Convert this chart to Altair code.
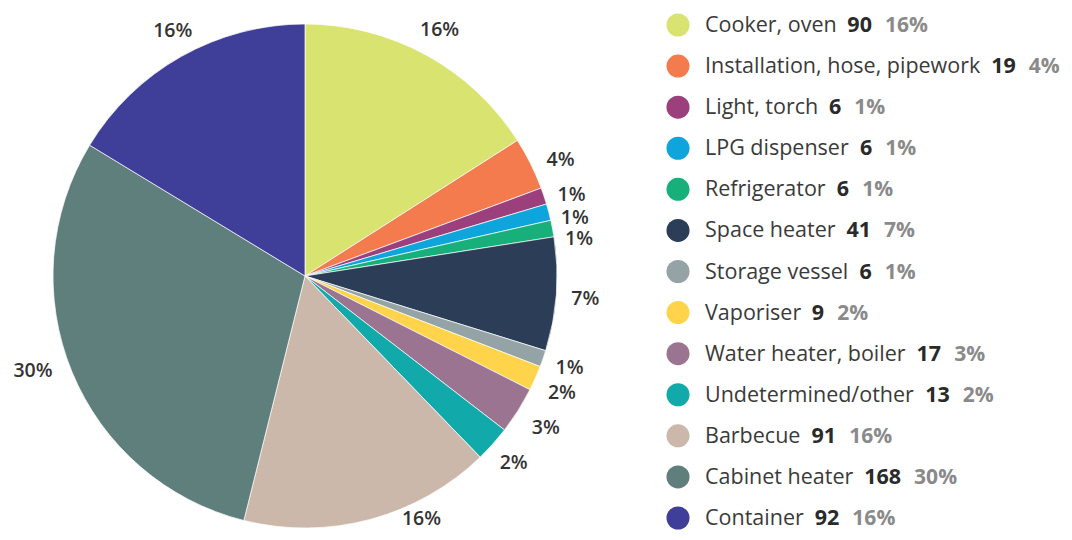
import altair as alt
import pandas as pd

categories = [
    "Cooker, oven", "Installation, hose, pipework", "Light, torch", "LPG dispenser",
    "Refrigerator", "Space heater", "Storage vessel", "Vaporiser",
    "Water heater, boiler", "Undetermined/other", "Barbecue", "Cabinet heater", "Container",
]
counts = [90, 19, 6, 6, 6, 41, 6, 9, 17, 13, 91, 168, 92]
percents = ["16%", "4%", "1%", "1%", "1%", "7%", "1%", "2%", "3%", "2%", "16%", "30%", "16%"]
colors = [
    "#d9e36f", "#f47b4e", "#9b3f7d", "#0ea5dc", "#17b07b", "#2b3d57", "#94a3a6",
    "#ffd44a", "#9a7490", "#12a9ab", "#cbb8aa", "#5f7f7c", "#3f3f99",
]

# layout / style
CX, CY = 297, 268
R = 252
LABEL_R = 280
FONT = "Open Sans"
LEG_FS = 21.5
PCT_FS = 21

# approximate Open Sans advance widths (em) to place the inline legend pieces
W = {" ": 0.26, "a": 0.556, "b": 0.613, "c": 0.476, "d": 0.613, "e": 0.561, "f": 0.339,
     "g": 0.548, "h": 0.614, "i": 0.253, "j": 0.253, "k": 0.52, "l": 0.253, "m": 0.93,
     "n": 0.614, "o": 0.604, "p": 0.613, "q": 0.613, "r": 0.408, "s": 0.477, "t": 0.353,
     "u": 0.614, "v": 0.501, "w": 0.778, "x": 0.52, "y": 0.501, "z": 0.465, ",": 0.242,
     "/": 0.367, "C": 0.631, "I": 0.303, "L": 0.528, "P": 0.608, "G": 0.726, "R": 0.623,
     "S": 0.55, "V": 0.579, "W": 0.942, "U": 0.742, "B": 0.656}
BOLD_DIGIT = 0.572


def text_w(s):
    return sum(W.get(ch, 0.57) for ch in s) * LEG_FS


DOT_X = 670
NAME_X = 697
GAP1, GAP2 = 11, 13

df = pd.DataFrame({
    "category": categories,
    "count": counts,
    "pct": percents,
    "order": list(range(len(categories))),
})
df["count_str"] = df["count"].astype(str)
df["num_x"] = [NAME_X + text_w(c) + GAP1 for c in categories]
df["pct_x"] = [nx + len(s) * BOLD_DIGIT * LEG_FS + GAP2 for nx, s in zip(df["num_x"], df["count_str"])]

color_scale = alt.Scale(domain=categories, range=colors)
base = alt.Chart(df)

arc = base.mark_arc(outerRadius=R, stroke="white", strokeWidth=0.7).encode(
    theta=alt.Theta("count:Q", stack=True),
    order=alt.Order("order:Q"),
    color=alt.Color("category:N", scale=color_scale, legend=None),
    x=alt.value(CX),
    y=alt.value(CY),
)

# label nudges (dx, dy) where the original spread labels apart
nudges = {
    "Installation, hose, pipework": (5, 9),
    "Light, torch": (1, 8),
    "LPG dispenser": (-1, 13),
    "Refrigerator": (-1, 16),
    "Space heater": (1, 3),
    "Vaporiser": (1, 3),
    "Water heater, boiler": (4, 3),
    "Barbecue": (44, -27),
    "Cabinet heater": (-13, -11),
    "Container": (5, -1),
}

label_layers = []
plain = [c for c in categories if c not in nudges]
groups = [(plain, 0, 0)] + [([c], dx, dy) for c, (dx, dy) in nudges.items()]
for cats, dx, dy in groups:
    pred = alt.FieldOneOfPredicate(field="category", oneOf=cats)
    label_layers.append(
        base.mark_text(radius=LABEL_R, font=FONT, fontSize=19.5, fontWeight=600,
                       color="#333333", dx=dx, dy=dy).encode(
            theta=alt.Theta("count:Q", stack=True),
            order=alt.Order("order:Q"),
            text=alt.condition(pred, "pct:N", alt.value("")),
            x=alt.value(CX),
            y=alt.value(CY),
        )
    )

ys = alt.Scale(type="point", domain=categories, range=[17, 510], padding=0)
ycat = alt.Y("category:N", sort=categories, scale=ys, axis=None)

leg_dots = base.mark_circle(size=531, opacity=1).encode(
    x=alt.value(DOT_X),
    y=ycat,
    color=alt.Color("category:N", scale=color_scale, legend=None),
)
leg_names = base.mark_text(align="left", baseline="middle", font=FONT, fontSize=LEG_FS,
                           color="#3a3a3a", dy=1).encode(
    x=alt.value(NAME_X), y=ycat, text="category:N")
leg_nums = base.mark_text(align="left", baseline="middle", font=FONT, fontSize=LEG_FS,
                          fontWeight="bold", color="#2a2a2a", dy=1).encode(
    x=alt.X("num_x:Q", scale=None), y=ycat, text="count_str:N")
leg_pcts = base.mark_text(align="left", baseline="middle", font=FONT, fontSize=PCT_FS,
                          fontWeight="bold", color="#8a8a8a", dy=1).encode(
    x=alt.X("pct_x:Q", scale=None), y=ycat, text="pct:N")

chart = alt.layer(arc, *label_layers, leg_dots, leg_names, leg_nums, leg_pcts).resolve_scale(
    x="independent", y="independent"
).properties(
    width=1056, height=524, padding=0, autosize=alt.AutoSizeParams(type="none"),
    background="white",
).configure_view(stroke=None)

chart.save("out.html", embed_options={"renderer": "svg", "actions": False})
